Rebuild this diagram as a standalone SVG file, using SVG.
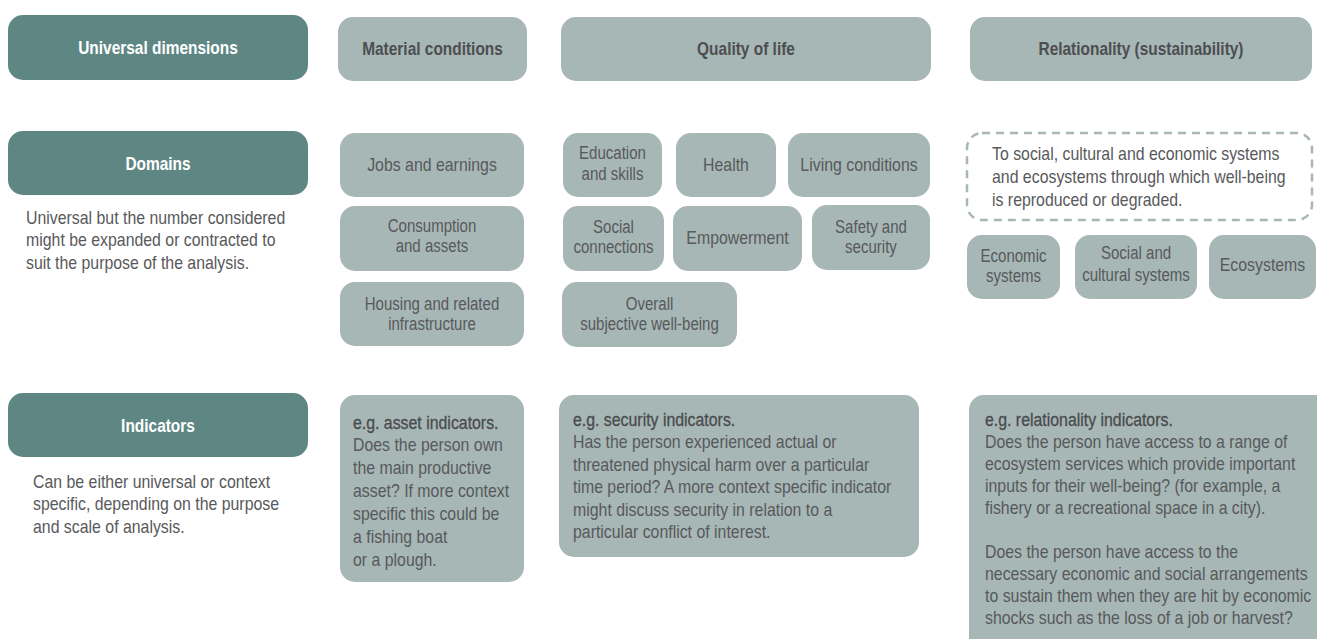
<svg xmlns="http://www.w3.org/2000/svg" width="1317" height="639" viewBox="0 0 1317 639">
  <defs>
    <style>
      text { font-family: "Liberation Sans", Arial, sans-serif; font-size: 19px; }
      .dark { fill: #5e8784; }
      .light { fill: #a6b7b6; }
      .dash { fill: none; stroke: #a6b7b6; stroke-width: 2.5; stroke-dasharray: 8 6; }
      .hd { fill: #ffffff; font-weight: bold; font-size: 18.5px; text-anchor: middle; }
      .col { fill: #4d4e50; font-weight: bold; font-size: 18.5px; text-anchor: middle; }
      .lbl { fill: #58595b; text-anchor: middle; }
      .two { font-size: 18px; }
      .body { fill: #58595b; }
      .lead { fill: #4a4b4d; stroke: #4a4b4d; stroke-width: 0.3; }
    </style>
  </defs>
  <rect width="1317" height="639" fill="#ffffff"/>

  <!-- left column: the three levels (all text is set narrow via scale(.835,1)) -->
  <g id="universal-dimensions">
    <rect class="dark" x="8" y="15" width="300" height="65" rx="15"/>
    <text class="hd" transform="translate(158 54) scale(.835 1)">Universal dimensions</text>
  </g>
  <g id="domains">
    <rect class="dark" x="8" y="131" width="300" height="64" rx="15"/>
    <text class="hd" transform="translate(158 170) scale(.835 1)">Domains</text>
    <text class="body" transform="translate(26 224) scale(.835 1)">Universal but the number considered<tspan x="0" dy="22.5">might be expanded or contracted to</tspan><tspan x="0" dy="22.5">suit the purpose of the analysis.</tspan></text>
  </g>
  <g id="indicators">
    <rect class="dark" x="8" y="393" width="300" height="64" rx="15"/>
    <text class="hd" transform="translate(158 432) scale(.835 1)">Indicators</text>
    <text class="body" transform="translate(33 488) scale(.835 1)">Can be either universal or context<tspan x="0" dy="22.5">specific, depending on the purpose</tspan><tspan x="0" dy="22.5">and scale of analysis.</tspan></text>
  </g>

  <!-- column headers -->
  <g id="material-conditions">
    <rect class="light" x="338" y="17" width="189" height="64" rx="15"/>
    <text class="col" transform="translate(432.5 55) scale(.835 1)">Material conditions</text>
  </g>
  <g id="quality-of-life">
    <rect class="light" x="561" y="17" width="370" height="64" rx="15"/>
    <text class="col" transform="translate(746 55) scale(.835 1)">Quality of life</text>
  </g>
  <g id="relationality">
    <rect class="light" x="970" y="17" width="342" height="64" rx="15"/>
    <text class="col" transform="translate(1141 55) scale(.835 1)">Relationality (sustainability)</text>
  </g>

  <!-- material domains -->
  <g id="jobs-and-earnings">
    <rect class="light" x="340" y="133" width="184" height="64" rx="15"/>
    <text class="lbl" transform="translate(432 171) scale(.835 1)">Jobs and earnings</text>
  </g>
  <g id="consumption-and-assets">
    <rect class="light" x="340" y="206" width="184" height="65" rx="15"/>
    <text class="lbl two" transform="translate(432 232) scale(.835 1)">Consumption<tspan x="0" dy="20.5">and assets</tspan></text>
  </g>
  <g id="housing">
    <rect class="light" x="340" y="282" width="184" height="64" rx="15"/>
    <text class="lbl two" transform="translate(432 310) scale(.835 1)">Housing and related<tspan x="0" dy="20.5">infrastructure</tspan></text>
  </g>

  <!-- quality-of-life domains -->
  <g id="education-and-skills">
    <rect class="light" x="563" y="133" width="99" height="64" rx="15"/>
    <text class="lbl two" transform="translate(612.5 159) scale(.835 1)">Education<tspan x="0" dy="21">and skills</tspan></text>
  </g>
  <g id="health">
    <rect class="light" x="676" y="133" width="100" height="64" rx="15"/>
    <text class="lbl" transform="translate(726 171) scale(.835 1)">Health</text>
  </g>
  <g id="living-conditions">
    <rect class="light" x="788" y="133" width="142" height="64" rx="15"/>
    <text class="lbl" transform="translate(859 171) scale(.835 1)">Living conditions</text>
  </g>
  <g id="social-connections">
    <rect class="light" x="563" y="206" width="101" height="65" rx="15"/>
    <text class="lbl two" transform="translate(613.5 232.5) scale(.835 1)">Social<tspan x="0" dy="20.5">connections</tspan></text>
  </g>
  <g id="empowerment">
    <rect class="light" x="673" y="206" width="129" height="65" rx="15"/>
    <text class="lbl" transform="translate(737.5 244) scale(.835 1)">Empowerment</text>
  </g>
  <g id="safety-and-security">
    <rect class="light" x="812" y="205" width="118" height="65" rx="15"/>
    <text class="lbl two" transform="translate(871 233) scale(.835 1)">Safety and<tspan x="0" dy="20.5">security</tspan></text>
  </g>
  <g id="subjective-well-being">
    <rect class="light" x="562" y="282" width="175" height="65" rx="15"/>
    <text class="lbl two" transform="translate(649.5 310) scale(.835 1)">Overall<tspan x="0" dy="20.5">subjective well-being</tspan></text>
  </g>

  <!-- relational systems -->
  <g id="systems-note">
    <rect class="dash" x="967" y="133" width="345" height="87" rx="15"/>
    <text class="body" transform="translate(992 160) scale(.835 1)">To social, cultural and economic systems<tspan x="0" dy="23">and ecosystems through which well-being</tspan><tspan x="0" dy="23">is reproduced or degraded.</tspan></text>
  </g>
  <g id="economic-systems">
    <rect class="light" x="967" y="235" width="93" height="64" rx="15"/>
    <text class="lbl two" transform="translate(1013.5 262) scale(.835 1)">Economic<tspan x="0" dy="20.5">systems</tspan></text>
  </g>
  <g id="social-cultural-systems">
    <rect class="light" x="1075" y="235" width="122" height="64" rx="15"/>
    <text class="lbl two" transform="translate(1136 259) scale(.835 1)">Social and<tspan x="0" dy="22">cultural systems</tspan></text>
  </g>
  <g id="ecosystems">
    <rect class="light" x="1209" y="235" width="107" height="64" rx="15"/>
    <text class="lbl" transform="translate(1262.5 271) scale(.835 1)">Ecosystems</text>
  </g>

  <!-- indicator examples -->
  <g id="asset-indicators">
    <rect class="light" x="340" y="395" width="184" height="187" rx="15"/>
    <text class="body" transform="translate(353 429) scale(.835 1)"><tspan class="lead">e.g. asset indicators.</tspan><tspan x="0" dy="22.5">Does the person own</tspan><tspan x="0" dy="22.5">the main productive</tspan><tspan x="0" dy="23">asset? If more context</tspan><tspan x="0" dy="23">specific this could be</tspan><tspan x="0" dy="23">a fishing boat</tspan><tspan x="0" dy="23">or a plough.</tspan></text>
  </g>
  <g id="security-indicators">
    <rect class="light" x="559" y="395" width="360" height="162" rx="15"/>
    <text class="body" transform="translate(573 426) scale(.835 1)"><tspan class="lead">e.g. security indicators.</tspan><tspan x="0" dy="22.5">Has the person experienced actual or</tspan><tspan x="0" dy="22.5">threatened physical harm over a particular</tspan><tspan x="0" dy="22.5">time period? A more context specific indicator</tspan><tspan x="0" dy="22.5">might discuss security in relation to a</tspan><tspan x="0" dy="22.5">particular conflict of interest.</tspan></text>
  </g>
  <g id="relationality-indicators">
    <rect class="light" x="969" y="395" width="366" height="262" rx="15"/>
    <text class="body" transform="translate(985 426) scale(.835 1)"><tspan class="lead">e.g. relationality indicators.</tspan><tspan x="0" dy="22">Does the person have access to a range of</tspan><tspan x="0" dy="22">ecosystem services which provide important</tspan><tspan x="0" dy="22">inputs for their well-being? (for example, a</tspan><tspan x="0" dy="22">fishery or a recreational space in a city).</tspan><tspan x="0" dy="44.5">Does the person have access to the</tspan><tspan x="0" dy="22">necessary economic and social arrangements</tspan><tspan x="0" dy="22">to sustain them when they are hit by economic</tspan><tspan x="0" dy="22">shocks such as the loss of a job or harvest?</tspan></text>
  </g>

  <!-- no connectors are drawn between the boxes -->
  <g id="connectors"/>
</svg>
